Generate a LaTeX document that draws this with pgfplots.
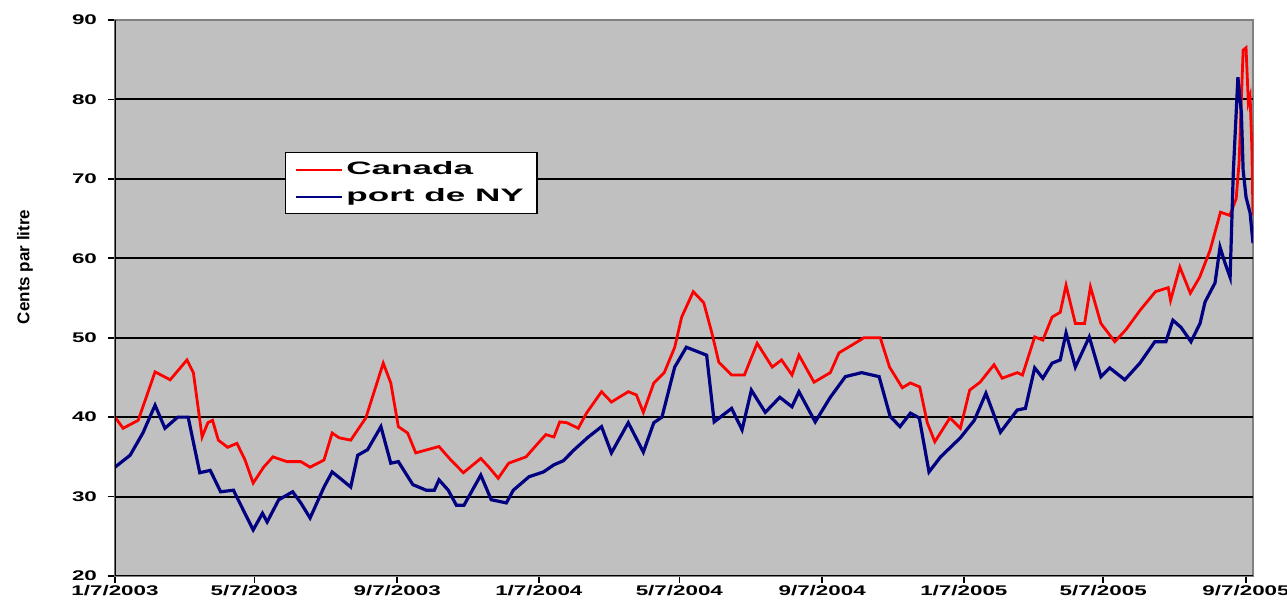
\documentclass[border=0pt]{standalone}
\usepackage{fontspec}
\setmainfont{Liberation Sans}
\usepackage{pgfplots}
\usepackage{pgfplotstable}
\pgfplotsset{compat=1.18}
\definecolor{bggray}{HTML}{C0C0C0}
\definecolor{navyblue}{HTML}{000080}
\definecolor{frame}{HTML}{808080}
\newcommand{\sx}[1]{\scalebox{1.6}[1]{#1}}
\newcommand{\lx}[1]{\scalebox{1.95}[1]{#1}}
\pgfplotstableread{
d v
0 40.0
7 38.6
20 39.6
34.5 45.7
47.5 44.7
62 47.2
67.5 45.6
75 37.5
80 39.3
84 39.6
89 37.1
97 36.2
105 36.7
112 34.6
119 31.7
128 33.7
136 35.0
148 34.4
160 34.4
168 33.7
180 34.6
187 38.0
193 37.4
203 37.1
216 39.9
231 46.8
237.5 44.3
244 38.8
252 38.0
259 35.5
269 35.9
279 36.3
288 34.8
300 33.0
315 34.8
322 33.7
330 32.3
339 34.2
354 35.0
363 36.5
371 37.8
378 37.5
383 39.4
389 39.3
399 38.6
406 40.5
419 43.2
427.5 41.9
442 43.2
449 42.8
455 40.6
464 44.3
473 45.6
482 48.8
488 52.6
498 55.8
507 54.4
514 50.6
520 46.9
531 45.3
542 45.3
553 49.3
566 46.3
574 47.2
583 45.3
589 47.8
602 44.4
616 45.6
623.5 48.1
635 49.1
645 50.0
659 50.0
667 46.3
678 43.7
685 44.3
693 43.8
699.5 39.3
706 36.9
719 39.9
728 38.6
736 43.4
745 44.4
757 46.6
764 44.9
777 45.6
781.5 45.3
792 50.1
799 49.7
807 52.6
814 53.2
819 56.6
827 51.8
835 51.8
840 56.4
849 51.8
861 49.5
870.5 51.0
883 53.5
896 55.8
907 56.3
909 54.7
917 58.9
926 55.6
934 57.6
943 61.0
952 65.8
960 65.4
965.5 67.5
968 72.0
971.5 86.2
974 86.5
976 79.6
977.5 80.4
979 74.0
980 65.4
}\canada
\pgfplotstableread{
d v
0 33.7
13 35.2
24 38.0
34.5 41.5
43 38.6
54 40.0
63 40.0
73 33.0
82 33.3
91 30.6
102 30.8
110.5 28.3
119 25.8
127 27.9
131 26.8
141 29.6
153 30.6
160 29.2
168 27.3
180 31.2
187 33.1
193 32.4
203 31.2
209 35.2
217.5 35.9
229 38.8
237.5 34.2
244 34.4
256.5 31.5
268 30.8
275 30.8
279 32.1
287 30.8
294 28.9
300.5 28.9
315 32.7
324 29.6
337 29.2
343 30.8
356.6 32.5
369 33.1
378 34.0
386 34.5
395.5 35.9
407.6 37.5
419 38.8
427.5 35.5
442 39.3
455 35.6
464 39.3
471 40.0
482 46.3
492 48.8
509.5 47.8
516 39.4
531 41.1
540 38.4
548 43.4
560 40.6
572.5 42.5
583 41.3
589 43.2
603 39.4
616 42.5
629 45.1
643 45.6
658 45.1
667.5 40.1
676 38.8
685 40.5
692.6 39.9
701 33.1
711 35.0
728 37.4
740 39.6
750 43.0
762.5 38.1
777 40.9
784 41.1
792 46.2
799 44.9
807 46.8
814 47.2
819 50.6
827 46.3
839 50.1
849 45.1
856.6 46.2
869.6 44.7
882.6 46.8
895.5 49.5
905 49.5
911 52.2
918 51.3
926.6 49.5
934.4 51.8
938.7 54.5
947.3 56.9
951.6 61.4
955.9 59.4
960.3 57.6
963 70.7
967 82.8
970 78.3
971.5 71.1
974 67.7
977.5 65.7
980 61.9
}\nyport
\begin{document}
\begin{tikzpicture}
\begin{axis}[
  scale only axis, width=569pt, height=278pt,
  xmin=0, xmax=980, ymin=20, ymax=90,
  axis background/.style={fill=bggray},
  axis line style={frame, line width=0.6pt},
  xtick={0,120,243,365,486,609,731,851,974},
  xticklabels={\sx{1/7/2003},\sx{5/7/2003},\sx{9/7/2003},\sx{1/7/2004},\sx{5/7/2004},\sx{9/7/2004},\sx{1/7/2005},\sx{5/7/2005},\sx{9/7/2005}},
  ytick={20,30,...,90},
  yticklabels={\sx{20},\sx{30},\sx{40},\sx{50},\sx{60},\sx{70},\sx{80},\sx{90}},
  extra y ticks={30,40,...,80},
  extra y tick labels={},
  extra y tick style={grid=major, major tick length=0pt},
  major grid style={black, line width=1pt},
  xtick pos=left, ytick pos=left,
  tick align=outside, major tick length=3.5pt,
  tick style={black, line width=0.8pt},
  minor tick num=0,
  x tick label style={font=\bfseries\fontsize{7}{8}\selectfont, inner sep=1pt},
  y tick label style={font=\bfseries\fontsize{7}{8}\selectfont, xshift=-2pt},
  ylabel={Cents par litre},
  ylabel style={font=\bfseries\fontsize{8.5}{10}\selectfont, at={(rel axis cs:-0.079,0.556)}, anchor=center},
  legend style={at={(0.149,0.763)}, anchor=north west, draw=black, line width=0.8pt, fill=white,
    font=\bfseries\fontsize{9}{10}\selectfont, inner xsep=5pt, inner ysep=3pt,
    nodes={inner sep=1.5pt}, row sep=2.5pt},
  legend cell align=left,
  legend image code/.code={\draw[#1, line width=1pt] (0pt,0pt) -- (23pt,0pt);},
]
\addplot[red, line width=1.4pt] table[x=d, y=v] {\canada};
\addlegendentry{\lx{Canada}}
\addplot[navyblue, line width=1.6pt] table[x=d, y=v] {\nyport};
\addlegendentry{\lx{port de NY}}
\draw[black, line width=1pt] (rel axis cs:0,1) -- (rel axis cs:0,0) -- (rel axis cs:1,0);
\end{axis}
\pgfresetboundingbox
\path (-57.5pt,-13.5pt) rectangle (586pt,288pt);
\end{tikzpicture}
\end{document}
